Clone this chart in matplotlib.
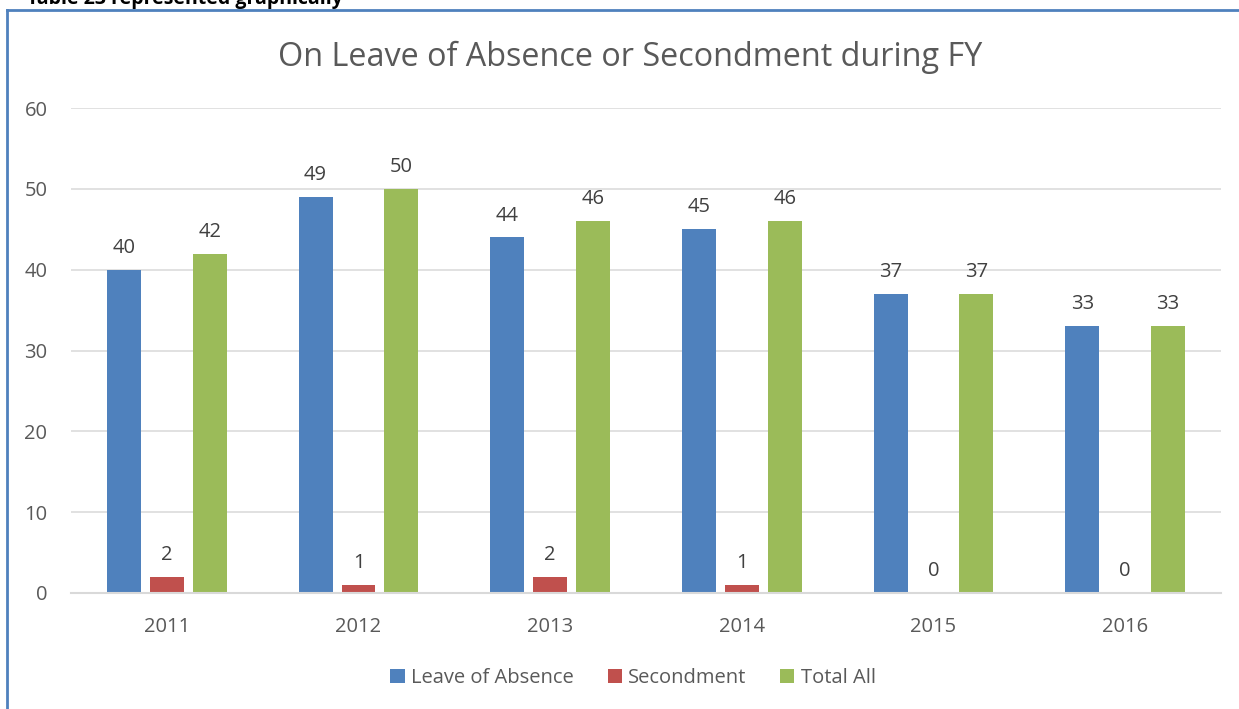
import matplotlib.pyplot as plt
import numpy as np
from matplotlib.patches import Patch
from matplotlib.lines import Line2D

# Daten
years = ['2011', '2012', '2013', '2014', '2015', '2016']
leave_of_absence = [40, 49, 44, 45, 37, 33]
secondment = [2, 1, 2, 1, 0, 0]
total_all = [42, 50, 46, 46, 37, 33]

series_names = ['Leave of Absence', 'Secondment', 'Total All']
colors = ['#4F81BD', '#C0504D', '#9BBB59']

plt.rcParams['font.family'] = ['Open Sans', 'DejaVu Sans']

W, H = 1239, 709
fig = plt.figure(figsize=(W / 100, H / 100), dpi=100)

# Plotbereich in Pixelkoordinaten
left, right, top, bottom = 71, 1221, 108, 593
ax = fig.add_axes([left / W, 1 - bottom / H, (right - left) / W, (bottom - top) / H])

x = np.arange(len(years))
bw = 0.177
step = 0.224
for i, (vals, name, c) in enumerate(zip([leave_of_absence, secondment, total_all], series_names, colors)):
    bars = ax.bar(x + (i - 1) * step, vals, bw, color=c, label=name, zorder=3)
    ax.bar_label(bars, labels=[str(v) for v in vals], padding=8.5, fontsize=14.5, color='#404040')

ax.set_xlim(-0.5, len(years) - 0.5)
ax.set_ylim(0, 60)
ax.set_yticks(range(0, 61, 10))
ax.set_xticks(x)
ax.set_xticklabels(years)
ax.yaxis.grid(True, color='#D9D9D9', linewidth=1.1, zorder=0)
ax.tick_params(axis='both', length=0, labelsize=14.5, labelcolor='#595959')
ax.tick_params(axis='x', pad=17)
ax.tick_params(axis='y', pad=17)
for side in ['top', 'right', 'left']:
    ax.spines[side].set_visible(False)
ax.spines['bottom'].set_color('#D9D9D9')
ax.spines['bottom'].set_linewidth(1.5)
ax.spines['bottom'].set_zorder(4)

fig.text(630 / W, 1 - 57 / H, 'On Leave of Absence or Secondment during FY',
         ha='center', va='center', fontsize=23.3, color='#595959')

handles = [Patch(facecolor=c, label=n) for c, n in zip(colors, series_names)]
fig.legend(handles=handles, loc='center', bbox_to_anchor=(633 / W, 1 - 678 / H), ncol=3,
           frameon=False, fontsize=14.5, handlelength=0.7, handleheight=0.7,
           handletextpad=0.3, columnspacing=1.7, labelcolor='#595959')

# abgeschnittene Ueberschrift und Rahmen
fig.text(27 / W, 1 - 4 / H, 'Table 23 represented graphically', ha='left', va='baseline',
         fontsize=14, fontweight='bold', color='black')
fig.add_artist(Line2D([7 / W, 7 / W], [0, 1 - 10 / H], color='#4F81BD', linewidth=2))
fig.add_artist(Line2D([7 / W, 1], [1 - 10 / H, 1 - 10 / H], color='#4F81BD', linewidth=2))

fig.savefig('out.png', dpi=100)
